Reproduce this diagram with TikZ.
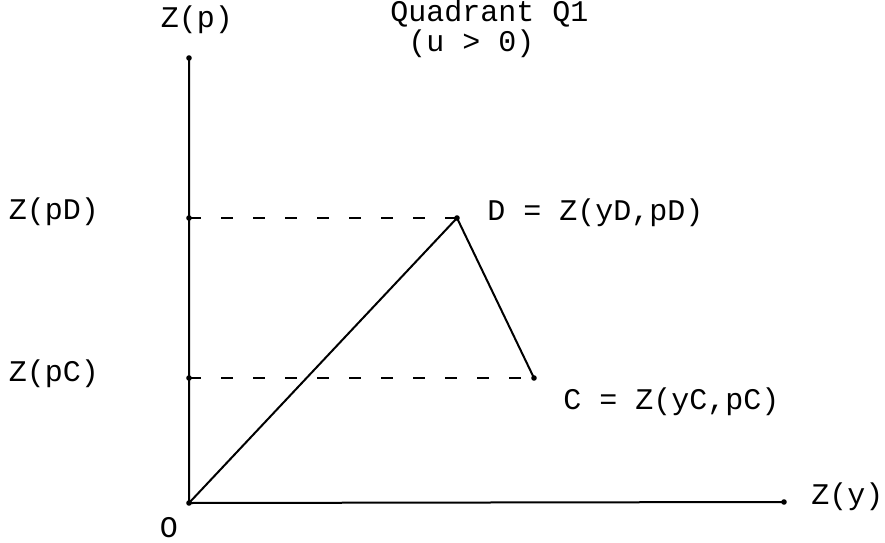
\documentclass[tikz,border=0pt]{standalone}
\usepackage{fontspec}
\setmonofont{Liberation Mono}
\begin{document}
\begin{tikzpicture}[x=0.5pt,y=-0.5pt,font=\ttfamily\fontsize{15}{13.5}\selectfont,
    every node/.style={inner sep=1pt}]
  \useasboundingbox (0,0) rectangle (885,542);
  \coordinate (O) at (189,503);
  \coordinate (ytop) at (189,58);
  \coordinate (xend) at (784,502);
  \coordinate (D) at (457,218);
  \coordinate (C) at (534,378);
  \coordinate (pD) at (189,218);
  \coordinate (pC) at (189,378);
  \draw[line width=1pt] (ytop) -- (O) -- (xend);
  \draw[line width=1pt] (O) -- (D) -- (C);
  \draw[line width=0.9pt,dash pattern=on 6pt off 10pt] (pD) -- (D);
  \draw[line width=0.9pt,dash pattern=on 6pt off 10pt] (pC) -- (C);
  \foreach \p in {ytop,xend,D,C,pD,pC,O}
    \fill (\p) circle (1.4pt);
  \node (zp) at (197,20) {Z(p)};
  \node[anchor=base west,align=left] (quad) at (388,51) {Quadrant Q1\\~(u > 0)};
  \node (zpd) at (54,212) {Z(pD)};
  \node (zpc) at (54,374) {Z(pC)};
  \node[anchor=west] (dlab) at (485,213) {D = Z(yD,pD)};
  \node[anchor=west] (clab) at (561,402) {C = Z(yC,pC)};
  \node[anchor=west] (zy) at (809,497) {Z(y)};
  \node (olab) at (169,528) {O};
\end{tikzpicture}
\end{document}
